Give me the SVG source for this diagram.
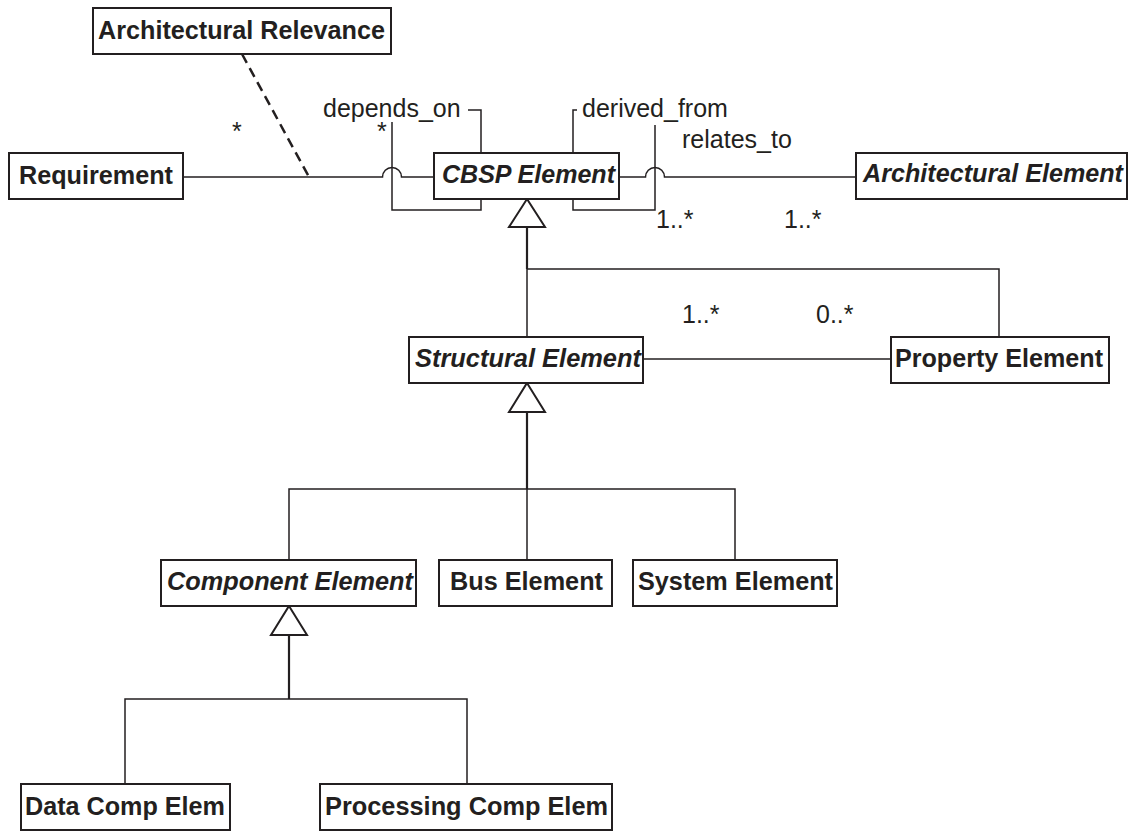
<svg xmlns="http://www.w3.org/2000/svg" width="1133" height="831" viewBox="0 0 1133 831">
  <style>
    .box { fill: #ffffff; stroke: #231f20; stroke-width: 2; }
    .lbl { font-family: "Liberation Sans", Arial, sans-serif; font-size: 25px; font-weight: bold; fill: #231f20; }
    .abs { font-style: italic; }
    .txt { font-family: "Liberation Sans", Arial, sans-serif; font-size: 25px; fill: #231f20; }
    .ln { fill: none; stroke: #231f20; stroke-width: 1.5; }
    .thick { fill: none; stroke: #231f20; stroke-width: 2.2; }
    .dash { fill: none; stroke: #231f20; stroke-width: 2.5; stroke-dasharray: 10 6; }
    .tri { fill: #ffffff; stroke: #231f20; stroke-width: 2; stroke-linejoin: miter; }
  </style>

  <!-- connectors -->
  <g id="connectors">
    <!-- Requirement to CBSP Element, hopping over the depends_on loop -->
    <path class="ln" d="M183,177 H382.5 A9.5,9.5 0 0 1 401.5,177 H434"/>
    <!-- association class link -->
    <path class="dash" d="M242,54 L309,177"/>
    <!-- depends_on self association -->
    <path class="ln" d="M392,122 V210 H481 V199"/>
    <path class="ln" d="M468,110 H481 V153"/>
    <!-- derived_from self association -->
    <path class="ln" d="M577,110 H573 V153"/>
    <path class="ln" d="M573,199 V210 H655 V125"/>
    <!-- CBSP Element to Architectural Element, hopping over derived_from -->
    <path class="ln" d="M619,177 H645.5 A9.5,9.5 0 0 1 664.5,177 H856"/>

    <!-- generalisation: CBSP Element -->
    <path class="tri" d="M527,199 L545,227 L509,227 Z"/>
    <path class="thick" d="M527,227 V269"/>
    <path class="ln" d="M527,269 V337"/>
    <path class="ln" d="M527,269 H999 V337"/>

    <!-- Structural Element to Property Element -->
    <path class="ln" d="M643,359 H891"/>

    <!-- generalisation: Structural Element -->
    <path class="tri" d="M527,383 L545,412 L509,412 Z"/>
    <path class="thick" d="M527,412 V489"/>
    <path class="ln" d="M527,489 V560"/>
    <path class="ln" d="M289,560 V489 H735 V560"/>

    <!-- generalisation: Component Element -->
    <path class="tri" d="M289,606 L307,635 L271,635 Z"/>
    <path class="thick" d="M289,635 V699"/>
    <path class="ln" d="M125,784 V699 H467 V784"/>
  </g>

  <!-- association labels and multiplicities -->
  <g id="labels">
    <text class="txt" x="323" y="117">depends_on</text>
    <text class="txt" x="582" y="117">derived_from</text>
    <text class="txt" x="682" y="148">relates_to</text>
    <text class="txt" x="232" y="140">*</text>
    <text class="txt" x="377" y="140">*</text>
    <text class="txt" x="656" y="228">1..*</text>
    <text class="txt" x="784" y="228">1..*</text>
    <text class="txt" x="682" y="323">1..*</text>
    <text class="txt" x="816" y="323">0..*</text>
  </g>

  <g id="architectural-relevance">
    <rect class="box" x="93" y="8" width="298" height="46"/>
    <text class="lbl" x="98" y="39" textLength="287" lengthAdjust="spacingAndGlyphs">Architectural Relevance</text>
  </g>
  <g id="requirement">
    <rect class="box" x="9" y="153" width="174" height="46"/>
    <text class="lbl" x="19" y="184" textLength="154" lengthAdjust="spacingAndGlyphs">Requirement</text>
  </g>
  <g id="cbsp-element">
    <rect class="box" x="434" y="153" width="185" height="46"/>
    <text class="lbl abs" x="442" y="183" textLength="173" lengthAdjust="spacingAndGlyphs">CBSP Element</text>
  </g>
  <g id="architectural-element">
    <rect class="box" x="856" y="153" width="271" height="46"/>
    <text class="lbl abs" x="863" y="182" textLength="260" lengthAdjust="spacingAndGlyphs">Architectural Element</text>
  </g>
  <g id="structural-element">
    <rect class="box" x="409" y="337" width="234" height="46"/>
    <text class="lbl abs" x="415" y="367" textLength="226" lengthAdjust="spacingAndGlyphs">Structural Element</text>
  </g>
  <g id="property-element">
    <rect class="box" x="891" y="337" width="218" height="46"/>
    <text class="lbl" x="895" y="367" textLength="208" lengthAdjust="spacingAndGlyphs">Property Element</text>
  </g>
  <g id="component-element">
    <rect class="box" x="161" y="560" width="255" height="46"/>
    <text class="lbl abs" x="167" y="590" textLength="246" lengthAdjust="spacingAndGlyphs">Component Element</text>
  </g>
  <g id="bus-element">
    <rect class="box" x="439" y="560" width="173" height="46"/>
    <text class="lbl" x="450" y="590" textLength="153" lengthAdjust="spacingAndGlyphs">Bus Element</text>
  </g>
  <g id="system-element">
    <rect class="box" x="633" y="560" width="204" height="46"/>
    <text class="lbl" x="638" y="590" textLength="195" lengthAdjust="spacingAndGlyphs">System Element</text>
  </g>
  <g id="data-comp-elem">
    <rect class="box" x="21" y="784" width="209" height="46"/>
    <text class="lbl" x="25" y="815" textLength="200" lengthAdjust="spacingAndGlyphs">Data Comp Elem</text>
  </g>
  <g id="processing-comp-elem">
    <rect class="box" x="320" y="784" width="292" height="46"/>
    <text class="lbl" x="325" y="815" textLength="283" lengthAdjust="spacingAndGlyphs">Processing Comp Elem</text>
  </g>
</svg>
